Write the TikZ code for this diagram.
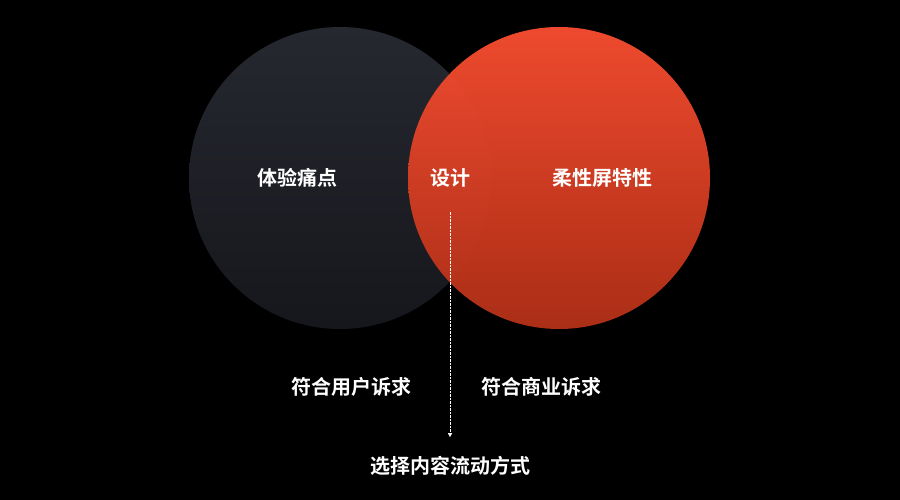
\documentclass[tikz,border=0pt]{standalone}
\usepackage{fontspec}
\newfontfamily\cjk{Noto Sans CJK SC}[BoldFont={Noto Sans CJK SC Bold}]
\usetikzlibrary{arrows.meta}

\definecolor{darktop}{HTML}{262830}
\definecolor{darkbot}{HTML}{16171C}
\definecolor{redtop}{HTML}{F84D30}
\definecolor{redbot}{HTML}{B23017}

\begin{document}
\begin{tikzpicture}[
                x=1pt, y=-1pt,
                every node/.style={font=\cjk\bfseries\fontsize{20}{24}\selectfont, text=white},
                label/.style={inner sep=3pt}
            ]

                \fill[black] (0,0) rectangle (900,500);
                \useasboundingbox (0,0) rectangle (900,500);

                % the two circles
                \shade[top color=darktop, bottom color=darkbot] (340,178) circle (151);
                \shade[top color=redtop, bottom color=redbot, fill opacity=0.96] (559,178) circle (151);

                \node[label] (pain) at (297,178) {体验痛点};
                \node[label] (sheji) at (450,178) {设计};
                \node[label] (screen) at (602,178) {柔性屏特性};

                \node[label] (user) at (351,387) {符合用户诉求};
                \node[label] (biz) at (541,387) {符合商业诉求};
                \node[label] (flow) at (450,466) {选择内容流动方式};

                \draw[white, densely dotted, thin, shorten <=21pt, shorten >=16pt,
                    -{Triangle[width=4pt, length=4pt]}]
                    (sheji.south) -- (flow.north);

            \end{tikzpicture}
\end{document}
